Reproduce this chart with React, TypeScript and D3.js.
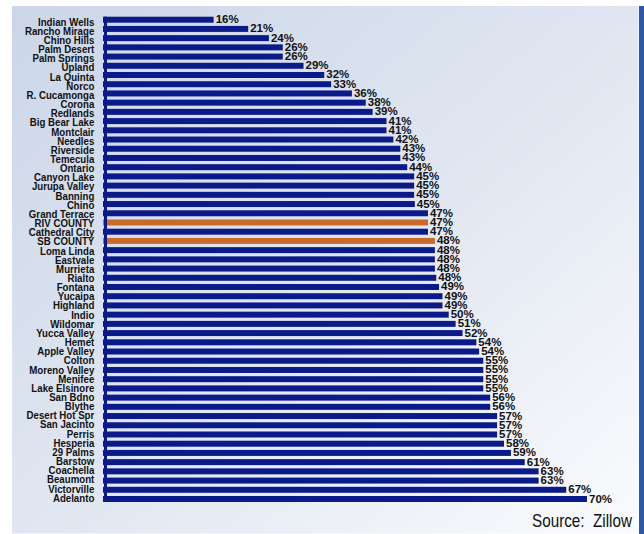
import React from "react";
import * as d3 from "d3";

const categories = [
  "Indian Wells", "Rancho Mirage", "Chino Hills", "Palm Desert", "Palm Springs", "Upland",
  "La Quinta", "Norco", "R. Cucamonga", "Corona", "Redlands", "Big Bear Lake", "Montclair",
  "Needles", "Riverside", "Temecula", "Ontario", "Canyon Lake", "Jurupa Valley", "Banning",
  "Chino", "Grand Terrace", "RIV COUNTY", "Cathedral City", "SB COUNTY", "Loma Linda",
  "Eastvale", "Murrieta", "Rialto", "Fontana", "Yucaipa", "Highland", "Indio", "Wildomar",
  "Yucca Valley", "Hemet", "Apple Valley", "Colton", "Moreno Valley", "Menifee",
  "Lake Elsinore", "San Bdno", "Blythe", "Desert Hot Spr", "San Jacinto", "Perris",
  "Hesperia", "29 Palms", "Barstow", "Coachella", "Beaumont", "Victorville", "Adelanto",
];

const values = [
  16, 21, 24, 26, 26, 29, 32, 33, 36, 38, 39, 41, 41, 42, 43, 43, 44, 45, 45, 45, 45.1, 47,
  47, 47, 48, 48, 48, 48, 48.2, 48.6, 49.1, 49.1, 50, 51, 52, 54, 54.4, 55, 55, 55, 55, 56,
  56, 57, 57, 57, 58, 59, 61, 63, 63, 67, 70,
];

const highlighted = ["RIV COUNTY", "SB COUNTY"];

const sourceText = "Source:  Zillow";

const W = 644;
const H = 534;

export default function App() {
  const x = d3.scaleLinear().domain([0, 70]).range([103, 587]);
  const y = d3
    .scaleBand<string>()
    .domain(categories)
    .range([16.7, 502])
    .paddingInner(0.35)
    .paddingOuter(0);
  const yLabel = d3.scalePoint<string>().domain(categories).range([25.7, 501.7]);

  const navy = "#0b1a89";
  const orange = "#c96a2a";

  return (
    <svg
      width={W}
      height={H}
      style={{ position: "absolute", left: 0, top: 0, display: "block" }}
    >
      <defs>
        <linearGradient id="bg" x1="0" y1="0" x2="1" y2="1">
          <stop offset="0%" stopColor="#cbd6e8" />
          <stop offset="55%" stopColor="#e2e8f2" />
          <stop offset="100%" stopColor="#fafbfd" />
        </linearGradient>
      </defs>
      <rect x={0} y={0} width={W} height={H} fill="#ffffff" />
      <rect x={12} y={6} width={626.5} height={527.5} fill="url(#bg)" />
      <rect x={639} y={6} width={5} height={H - 6} fill="#2b58a8" />

      {categories.map((c, i) => (
        <rect
          key={c}
          x={x(0)}
          y={y(c)}
          width={x(values[i]) - x(0)}
          height={y.bandwidth()}
          fill={highlighted.includes(c) ? orange : navy}
        />
      ))}

      <rect x={104} y={16.7} width={3} height={502 - 16.7} fill={navy} />

      <g
        fontFamily="'Liberation Sans', Arial, sans-serif"
        fontWeight="bold"
        fontSize={11}
        fill="#111"
      >
        {categories.map((c) => (
          <text
            key={c}
            transform={`translate(94.3, ${yLabel(c)}) scale(0.88, 1)`}
            textAnchor="end"
          >
            {c}
          </text>
        ))}
      </g>

      <g
        fontFamily="'Liberation Sans', Arial, sans-serif"
        fontWeight="bold"
        fontSize={11.5}
        fill="#111"
      >
        {categories.map((c, i) => (
          <text key={c} x={x(values[i]) + 2} y={(y(c) as number) + y.bandwidth() + 0.5}>
            {`${Math.round(values[i])}%`}
          </text>
        ))}
      </g>

      <text
        x={532}
        y={527.3}
        fontFamily="'Liberation Sans', Arial, sans-serif"
        fontSize={19}
        fill="#111"
        textLength={100}
        lengthAdjust="spacingAndGlyphs"
        style={{ whiteSpace: "pre" }}
      >
        {sourceText}
      </text>
    </svg>
  );
}
